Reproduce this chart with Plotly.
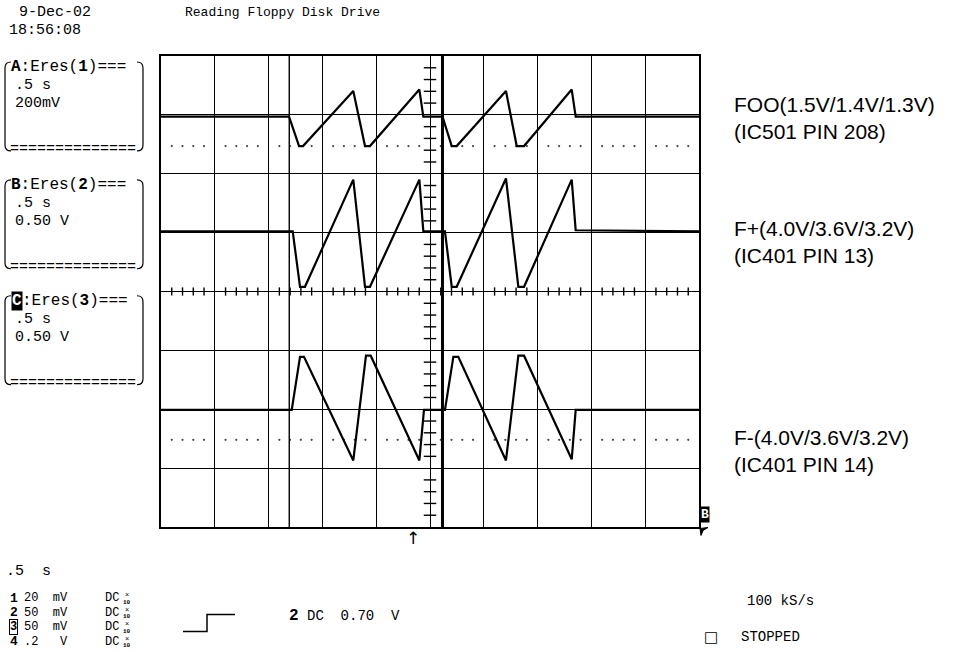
import plotly.graph_objects as go

# ---------------------------------------------------------------------------
# Acquired waveforms (time in seconds, level in volts)
# ---------------------------------------------------------------------------
t_foo = [0.0, 1.190, 1.283, 1.320, 1.787, 1.896, 1.942, 2.401, 2.438, 2.616,
         2.702, 2.748, 3.206, 3.306, 3.374, 3.817, 3.854, 5.0]
v_foo = [1.40, 1.40, 1.30, 1.30, 1.487, 1.30, 1.30, 1.492, 1.40, 1.40,
         1.30, 1.30, 1.487, 1.30, 1.30, 1.492, 1.40, 1.40]

t_fplus = [0.0, 1.224, 1.292, 1.338, 1.787, 1.896, 1.942, 2.401, 2.438, 2.639,
           2.702, 2.748, 3.206, 3.321, 3.374, 3.817, 3.854, 5.0]
v_fplus = [3.60, 3.60, 3.13, 3.13, 4.04, 3.13, 3.13, 4.04, 3.60, 3.60,
           3.13, 3.13, 4.05, 3.13, 3.13, 4.04, 3.61, 3.60]

t_fminus = [0.0, 1.215, 1.292, 1.329, 1.787, 1.905, 1.949, 2.401, 2.444, 2.639,
            2.717, 2.763, 3.206, 3.321, 3.374, 3.817, 3.854, 5.0]
v_fminus = [3.60, 3.60, 4.05, 4.05, 3.17, 4.06, 4.06, 3.17, 3.60, 3.60,
            4.05, 4.05, 3.17, 4.06, 4.06, 3.18, 3.60, 3.60]

# Display settings of each trace: reference level (V), volts/div, screen position (div)
FOO_REF, FOO_VDIV, FOO_POS = 1.40, 0.20, 2.97
FP_REF, FP_VDIV, FP_POS = 3.60, 0.50, 1.02
FM_REF, FM_VDIV, FM_POS = 3.60, 0.50, -2.01

# Time cursors (s)
cursor_thin = 1.192
cursor_thick = 2.616

trace_labels = [
    ("FOO(1.5V/1.4V/1.3V)", "(IC501 PIN 208)"),
    ("F+(4.0V/3.6V/3.2V)", "(IC401 PIN 13)"),
    ("F-(4.0V/3.6V/3.2V)", "(IC401 PIN 14)"),
]

channel_rows = [("1", "20  mV"), ("2", "50  mV"), ("3", "50  mV"), ("4", ".2   V")]

# ---------------------------------------------------------------------------
W, H = 963, 652
GL, GR, GT, GB = 161, 699, 56, 527.5      # graticule edges (px)
MONO = "Liberation Mono"
SANS = "Liberation Sans"


def px(x):
    return (x - GL) / (GR - GL)


def py(y):
    return (GB - y) / (GB - GT)


def to_div(values, ref, vdiv, pos):
    return [pos + (v - ref) / vdiv for v in values]


fig = go.Figure()

# graticule minor ticks on the centre axes
tick_x, tick_y = [], []
for k in range(51):
    if k % 5:
        tick_x += [k * 0.1, k * 0.1, None]
        tick_y += [-0.07, 0.07, None]
for k in range(-20, 21):
    if k % 5:
        tick_x += [2.5 - 0.058, 2.5 + 0.058, None]
        tick_y += [k * 0.2, k * 0.2, None]
fig.add_trace(go.Scatter(x=tick_x, y=tick_y, mode="lines",
                         line=dict(color="black", width=1.4),
                         hoverinfo="skip", showlegend=False))

# dotted reference rows
dot_x, dot_y = [], []
for lvl in (2.47, -2.52):
    for k in range(50):
        if k % 5:
            dot_x.append(k * 0.1)
            dot_y.append(lvl)
fig.add_trace(go.Scatter(x=dot_x, y=dot_y, mode="markers",
                         marker=dict(color="#444", size=2.2),
                         hoverinfo="skip", showlegend=False))

# waveforms
for t, v, ref, vd, pos in [
    (t_foo, v_foo, FOO_REF, FOO_VDIV, FOO_POS),
    (t_fplus, v_fplus, FP_REF, FP_VDIV, FP_POS),
    (t_fminus, v_fminus, FM_REF, FM_VDIV, FM_POS),
]:
    fig.add_trace(go.Scatter(x=t, y=to_div(v, ref, vd, pos), mode="lines",
                             line=dict(color="black", width=2.2),
                             showlegend=False))

shapes = [
    dict(type="line", xref="x", yref="paper", x0=cursor_thin, x1=cursor_thin,
         y0=0, y1=1, line=dict(color="black", width=1.4)),
    dict(type="line", xref="x", yref="paper", x0=cursor_thick, x1=cursor_thick,
         y0=0, y1=1, line=dict(color="black", width=3)),
]


def box_path(x0, x1, y0, y1, r=6):
    left = (f"M {px(x0 + r)},{py(y0)} Q {px(x0)},{py(y0)} {px(x0)},{py(y0 + r)} "
            f"L {px(x0)},{py(y1 - r)} Q {px(x0)},{py(y1)} {px(x0 + r)},{py(y1)}")
    right = (f"M {px(x1 - r)},{py(y0)} Q {px(x1)},{py(y0)} {px(x1)},{py(y0 + r)} "
             f"L {px(x1)},{py(y1 - r)} Q {px(x1)},{py(y1)} {px(x1 - r)},{py(y1)}")
    return [dict(type="path", xref="paper", yref="paper", path=p,
                 line=dict(color="black", width=1.2)) for p in (left, right)]


annotations = []


def text(x, y, s, size=15, font=MONO, anchor="left", **kw):
    annotations.append(dict(xref="paper", yref="paper", x=px(x), y=py(y), text=s,
                            showarrow=False, xanchor=anchor, yanchor="middle",
                            borderpad=0,
                            font=dict(family=font, size=size, color="black"), **kw))


# header
text(9, 12, " 9-Dec-02")
text(8, 30, "18:56:08")
text(184, 12, "Reading Floppy Disk Drive", size=13)

# trace parameter boxes
boxes = [
    (62, 151, "A", "1", "200mV"),
    (180, 269, "B", "2", "0.50 V"),
    (296, 385, "C", "3", "0.50 V"),
]
for y0, y1, letter, num, vscale in boxes:
    shapes += box_path(5, 143, y0, y1)
    if letter == "C":
        annotations.append(dict(xref="paper", yref="paper", x=px(11), y=py(y0 + 5),
                                text="<b>C</b>", showarrow=False, xanchor="left",
                                yanchor="middle", bgcolor="black", borderpad=0,
                                font=dict(family=MONO, size=16, color="white")))
        text(21, y0 + 5, f":Eres(<b>{num}</b>)===", size=16)
    else:
        text(10, y0 + 5, f"<b>{letter}</b>:Eres(<b>{num}</b>)===", size=16)
    text(14, y0 + 24, ".5 s", size=15)
    text(14, y0 + 42, vscale, size=15)
    text(9, y1 - 1, "==============", size=15)

# right-hand labels
for (l1, l2), yc in zip(trace_labels, (105, 229, 438)):
    text(733, yc, l1, size=21, font=SANS)
    text(733, yc + 27, l2, size=21, font=SANS)

# bottom status area
text(5, 572, ".5  s", size=15)
for i, (ch, sens) in enumerate(channel_rows):
    yc = 599 + i * 14.4
    if ch == "3":
        annotations.append(dict(xref="paper", yref="paper", x=px(9), y=py(yc),
                                text="<b>3</b>", showarrow=False, xanchor="left",
                                yanchor="middle", bordercolor="black", borderwidth=1,
                                borderpad=0,
                                font=dict(family=MONO, size=12, color="black")))
    else:
        text(9, yc, f"<b>{ch}</b>", size=13)
    text(23, yc, sens, size=12)
    text(104, yc, "DC", size=12)
    text(124, yc - 3, "×", size=7)
    text(122, yc + 4, "<b>10</b>", size=6)

shapes.append(dict(type="path", xref="paper", yref="paper",
                   path=f"M {px(183)},{py(632)} L {px(207)},{py(632)} "
                        f"L {px(207)},{py(615)} L {px(235)},{py(615)}",
                   line=dict(color="black", width=1.5)))
text(288, 617, "<b>2</b>", size=16)
text(306, 617, "DC  0.70  V", size=14)
text(746, 602, "100 kS/s", size=14)
text(703, 638, "□", size=15, font="DejaVu Sans")
text(740, 638, "STOPPED", size=14)

# trigger position arrow and trigger-level marker
text(413, 539, "↑", size=17, font="DejaVu Sans", anchor="center")
annotations.append(dict(xref="paper", yref="paper", x=px(700), y=py(515),
                        text="<b>B</b>", showarrow=False, xanchor="left",
                        yanchor="middle", bgcolor="black", borderpad=0,
                        font=dict(family=MONO, size=13, color="white")))
shapes.append(dict(type="path", xref="paper", yref="paper",
                   path=f"M {px(700)},{py(529)} L {px(708)},{py(528)} "
                        f"L {px(703)},{py(531)} L {px(701)},{py(536)} Z",
                   fillcolor="black", line=dict(color="black", width=1)))

fig.update_layout(
    width=W, height=H,
    margin=dict(l=GL, r=W - GR, t=GT, b=H - GB, pad=0),
    paper_bgcolor="white", plot_bgcolor="white",
    xaxis=dict(range=[0, 5], dtick=0.5, showgrid=True, gridcolor="black",
               gridwidth=1.4, zeroline=False, showticklabels=False,
               showline=True, linecolor="black", linewidth=1.6, mirror=True,
               ticks=""),
    yaxis=dict(range=[-4, 4], dtick=1, showgrid=True, gridcolor="black",
               gridwidth=1.4, zeroline=False, showticklabels=False,
               showline=True, linecolor="black", linewidth=1.6, mirror=True,
               ticks=""),
    shapes=shapes,
    annotations=annotations,
    showlegend=False,
)

fig.write_html("out.html")
